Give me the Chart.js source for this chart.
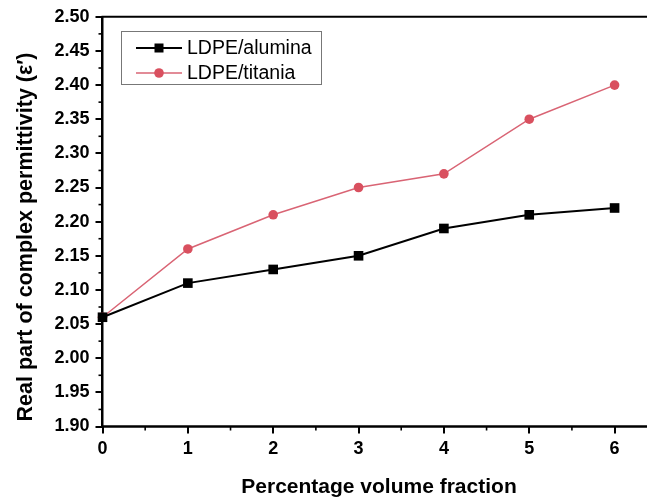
<!DOCTYPE html>
<html>
<head>
<meta charset="utf-8">
<script src="https://cdn.jsdelivr.net/npm/chart.js@4"></script>
<style>
  html, body { margin: 0; padding: 0; background: #ffffff; }
  #wrap { width: 647px; height: 499px; }
</style>
</head>
<body>
<div id="wrap"><canvas id="c" width="647" height="499"></canvas></div>
<script>
// ---- data ----
const volumeFraction = [0, 1, 2, 3, 4, 5, 6];
const aluminaValues  = [2.06, 2.11, 2.13, 2.15, 2.19, 2.21, 2.22];
const titaniaValues  = [2.06, 2.16, 2.21, 2.25, 2.27, 2.35, 2.40];
const seriesNames    = ['LDPE/alumina', 'LDPE/titania'];
const xTickValues    = [0, 1, 2, 3, 4, 5, 6];
const yTickValues    = [1.90, 1.95, 2.00, 2.05, 2.10, 2.15, 2.20, 2.25, 2.30, 2.35, 2.40, 2.45, 2.50];
const xTitle = 'Percentage volume fraction';
const yTitle = 'Real part of complex permittivity (\u03B5\u2032)';

const FONT = '"Liberation Sans", Arial, sans-serif';
const RED = '#d9505f';
const RED_LINE = '#d96474';

const toPoints = (xs, ys) => xs.map((x, i) => ({ x: x, y: ys[i] }));

// minor ticks, frame lines, axis titles and in-plot legend
const decor = {
  id: 'decor',
  afterDraw(chart) {
    const ctx = chart.ctx;
    const xs = chart.scales.x, ys = chart.scales.y;
    const a = chart.chartArea;
    ctx.save();
    ctx.strokeStyle = '#000';
    ctx.lineWidth = 2;
    // top frame
    ctx.beginPath();
    ctx.moveTo(a.left - 1, a.top);
    ctx.lineTo(chart.width, a.top);
    ctx.stroke();
    // bottom axis line, continued to the cropped edge
    ctx.lineWidth = 2.5;
    ctx.beginPath();
    ctx.moveTo(a.left, a.bottom);
    ctx.lineTo(chart.width, a.bottom);
    ctx.stroke();
    ctx.lineWidth = 1.6;
    // minor y ticks
    for (let i = 0; i < yTickValues.length - 1; i++) {
      const v = (yTickValues[i] + yTickValues[i + 1]) / 2;
      const py = ys.getPixelForValue(v);
      ctx.beginPath();
      ctx.moveTo(a.left, py);
      ctx.lineTo(a.left - 4, py);
      ctx.stroke();
    }
    // minor x ticks
    for (let i = 0; i < xTickValues.length; i++) {
      const v = xTickValues[i] + 0.5;
      if (v > xs.max) continue;
      const px = xs.getPixelForValue(v);
      ctx.beginPath();
      ctx.moveTo(px, a.bottom);
      ctx.lineTo(px, a.bottom + 4);
      ctx.stroke();
    }
    ctx.fillStyle = '#000';
    ctx.textAlign = 'center';
    ctx.textBaseline = 'middle';
    // x axis title
    ctx.font = 'bold 21px ' + FONT;
    ctx.fillText(xTitle, 379, 487);
    // y axis title
    ctx.save();
    ctx.translate(26, 237);
    ctx.rotate(-Math.PI / 2);
    ctx.font = 'bold 21.5px ' + FONT;
    ctx.fillText(yTitle, 0, 0);
    ctx.restore();
    // legend
    const lx = 121, ly = 31, lw = 200, lh = 53;
    ctx.fillStyle = '#fff';
    ctx.fillRect(lx, ly, lw, lh);
    ctx.strokeStyle = '#777';
    ctx.lineWidth = 1;
    ctx.strokeRect(lx + 0.5, ly + 0.5, lw, lh);
    const rows = [48, 73];
    chart.data.datasets.forEach((ds, i) => {
      const y = rows[i];
      ctx.strokeStyle = ds.borderColor;
      ctx.lineWidth = ds.borderWidth;
      ctx.beginPath();
      ctx.moveTo(136, y);
      ctx.lineTo(182, y);
      ctx.stroke();
      ctx.fillStyle = ds.pointBackgroundColor;
      if (ds.pointStyle === 'rect') {
        ctx.fillRect(159 - 4.5, y - 4.5, 9, 9);
      } else {
        ctx.beginPath();
        ctx.arc(159, y, 4.8, 0, Math.PI * 2);
        ctx.fill();
      }
      ctx.fillStyle = '#000';
      ctx.font = '19.5px ' + FONT;
      ctx.textBaseline = 'middle';
      ctx.textAlign = 'left';
      ctx.fillText(ds.label, 187, y + 1);
    });
    ctx.restore();
  }
};

new Chart(document.getElementById('c'), {
  type: 'line',
  data: {
    datasets: [
      {
        label: seriesNames[0],
        data: toPoints(volumeFraction, aluminaValues),
        borderColor: '#000',
        backgroundColor: '#000',
        borderWidth: 2,
        pointStyle: 'rect',
        pointRadius: 6.8,
        pointBackgroundColor: '#000',
        pointBorderWidth: 0,
        tension: 0,
        clip: false
      },
      {
        label: seriesNames[1],
        data: toPoints(volumeFraction, titaniaValues),
        borderColor: RED_LINE,
        backgroundColor: RED,
        borderWidth: 1.5,
        pointStyle: 'circle',
        pointRadius: 4.8,
        pointBackgroundColor: RED,
        pointBorderWidth: 0,
        tension: 0,
        clip: false
      }
    ]
  },
  options: {
    responsive: false,
    devicePixelRatio: 1,
    animation: false,
    layout: { padding: { left: 0, top: 16, right: 0, bottom: 0 } },
    plugins: { legend: { display: false }, tooltip: { enabled: false } },
    scales: {
      x: {
        type: 'linear',
        min: 0,
        max: 6.3,
        afterFit(scale) { scale.height = 72.5; },
        afterBuildTicks(scale) { scale.ticks = xTickValues.map(v => ({ value: v })); },
        border: { display: false },
        grid: { display: true, drawOnChartArea: false, drawTicks: true, tickLength: 7, color: '#000', lineWidth: 2 },
        ticks: {
          includeBounds: false,
          padding: 5,
          color: '#000',
          font: { family: FONT, size: 18, weight: 'bold' },
          maxRotation: 0,
          callback: v => String(v)
        },
        title: { display: false }
      },
      y: {
        type: 'linear',
        min: 1.9,
        max: 2.5,
        afterFit(scale) { scale.width = 102.5; },
        afterBuildTicks(scale) { scale.ticks = yTickValues.map(v => ({ value: v })); },
        border: { display: true, color: '#000', width: 2.5 },
        grid: { display: true, drawOnChartArea: false, drawTicks: true, tickLength: 7, color: '#000', lineWidth: 2 },
        ticks: {
          padding: 6,
          color: '#000',
          font: { family: FONT, size: 18, weight: 'bold' },
          callback: v => Number(v).toFixed(2)
        },
        title: { display: false }
      }
    }
  },
  plugins: [decor]
});
</script>
</body>
</html>
